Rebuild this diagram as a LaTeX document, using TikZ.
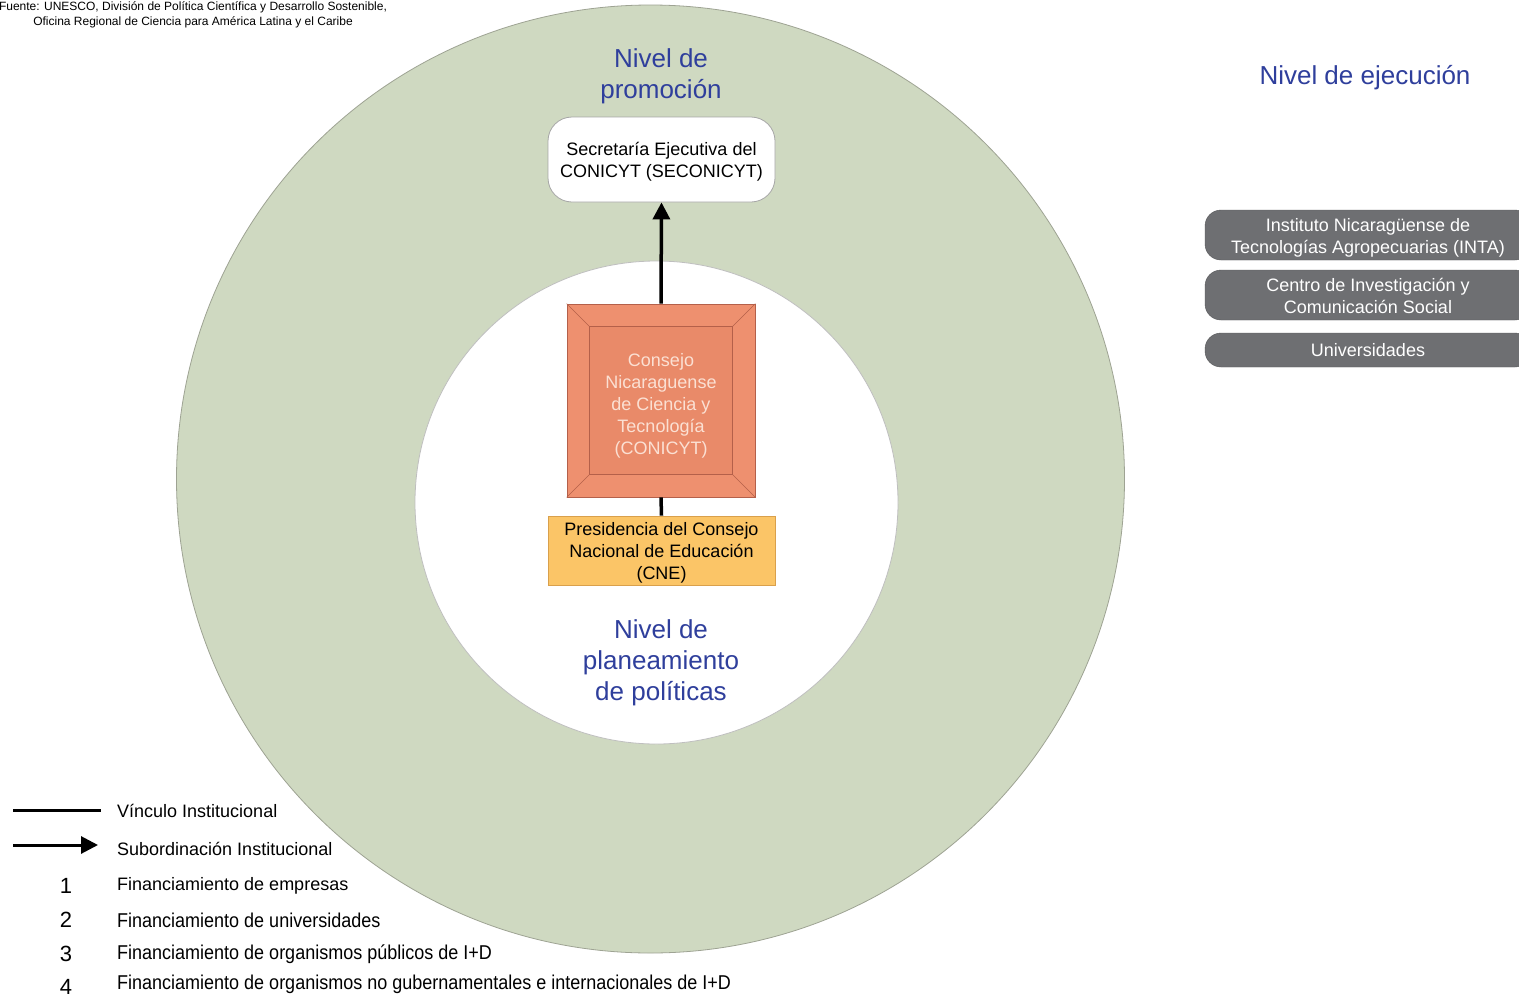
\documentclass[tikz,border=0pt]{standalone}
\usepackage{fontspec}
\setmainfont{Liberation Sans}
\newfontfamily\narrowfont[FakeStretch=0.9]{Liberation Sans}
\usetikzlibrary{arrows.meta}
\definecolor{ringgreen}{HTML}{CFD9C1}
\definecolor{ringedge}{HTML}{9EA393}
\definecolor{lvlblue}{HTML}{2F3F9C}
\definecolor{salmon}{HTML}{EE906F}
\definecolor{salmonin}{HTML}{E98A69}
\definecolor{salmonedge}{HTML}{B4604A}
\definecolor{cnefill}{HTML}{FBC567}
\definecolor{cneedge}{HTML}{D9A04C}
\definecolor{pillgray}{HTML}{6E6F72}
\definecolor{conitext}{HTML}{FBE0D3}
\tikzset{
  level/.style={text=lvlblue, font=\fontsize{26}{31}\selectfont, align=center},
  boxtext/.style={font=\fontsize{18}{22}\selectfont, align=center},
  pill/.style={fill=pillgray, draw=pillgray!80!black, rounded corners=16pt, minimum width=326pt, text=white, font=\fontsize{18}{22}\selectfont, align=center, inner sep=2pt},
  legtext/.style={anchor=west, font=\fontsize{18}{20}\selectfont, inner sep=0pt},
  legnarrow/.style={anchor=west, font=\narrowfont\fontsize{20}{20}\selectfont, inner sep=0pt},
  legnum/.style={font=\fontsize{22}{22}\selectfont, inner sep=0pt},
  link/.style={line width=3.5pt, black},
  subord/.style={line width=3.5pt, black, -{Triangle[length=17pt,width=17pt]}}
}
\begin{document}
\begin{tikzpicture}[x=1pt,y=-1pt]
\useasboundingbox (0,0) rectangle (1519,999);
\clip (0,0) rectangle (1519,999);
\fill[white] (0,0) rectangle (1519,999);
% rings
\draw[ringedge, fill=ringgreen, line width=0.8pt] (650.5,479) circle (474);
\draw[black!25, fill=white, line width=0.8pt] (656.5,502.5) circle (241.5);
% header
\node[font=\fontsize{12}{15}\selectfont, align=center, inner sep=0pt] (src) at (193,15) {Fuente: UNESCO, División de Política Científica y Desarrollo Sostenible,\\Oficina Regional de Ciencia para América Latina y el Caribe};
% level labels
\node[level] (promo) at (661,76) {Nivel de\\promoción};
\node[level] (plan) at (661,663) {Nivel de\\planeamiento\\de políticas};
\node[level] (ejec) at (1365,78) {Nivel de ejecución};
% secretaria
\node[draw=black!35, fill=white, rounded corners=24pt, minimum width=227pt, minimum height=85pt, line width=0.8pt] (sec) at (661.5,159.5) {};
\node[boxtext] (sectxt) at ([yshift=-2pt]sec.center) {Secretaría Ejecutiva del\\CONICYT (SECONICYT)};
% conicyt bevel box
\node[fill=salmon, draw=salmonedge, line width=0.6pt, minimum width=188pt, minimum height=193pt, inner sep=0pt] (coni) at (661,400.5) {};
\draw[salmonedge, line width=0.6pt, fill=salmonin] ([xshift=23pt,yshift=-23pt]coni.north west) rectangle ([xshift=-23pt,yshift=23pt]coni.south east);
\draw[salmonedge, line width=0.6pt] (coni.north west) -- ([xshift=23pt,yshift=-23pt]coni.north west)
  (coni.north east) -- ([xshift=-23pt,yshift=-23pt]coni.north east)
  (coni.south west) -- ([xshift=23pt,yshift=23pt]coni.south west)
  (coni.south east) -- ([xshift=-23pt,yshift=23pt]coni.south east);
\node[boxtext, text=conitext] (conitxt) at ([yshift=-5pt]coni.center) {Consejo\\Nicaraguense\\de Ciencia y\\Tecnología\\(CONICYT)};
% CNE
\node[fill=cnefill, draw=cneedge, line width=0.6pt, minimum width=227pt, minimum height=69pt] (cne) at (661.5,550.5) {};
\node[boxtext] (cnetxt) at ([yshift=-2pt]cne.center) {Presidencia del Consejo\\Nacional de Educación\\(CNE)};
% connectors
\draw[subord] (coni.north) -- (sec.south);
\draw[link] (coni.south) -- (cne.north);
% execution level
\node[pill, minimum height=50pt] (inta) at (1368,235) {};
\node[boxtext, text=white] (intatxt) at ([yshift=-3pt]inta.center) {Instituto Nicaragüense de\\Tecnologías Agropecuarias (INTA)};
\node[pill, minimum height=50pt] (cics) at (1368,295) {};
\node[boxtext, text=white] (cicstxt) at ([yshift=-1pt]cics.center) {Centro de Investigación y\\Comunicación Social};
\node[pill, minimum height=34pt] (univ) at (1368,350) {};
\node[boxtext, text=white] (univtxt) at (univ.center) {Universidades};
% legend
\coordinate (l1a) at (13,810); \coordinate (l1b) at (101,810);
\coordinate (l2a) at (13,845); \coordinate (l2b) at (98,845);
\draw[link, line width=3pt] (l1a) -- (l1b);
\draw[subord, line width=3pt] (l2a) -- (l2b);
\node[legtext] (t1) at (117,811) {Vínculo Institucional};
\node[legtext] (t2) at (117,849) {Subordinación Institucional};
\node[legnum] (n1) at (66,886) {1};
\node[legnum] (n2) at (66,920) {2};
\node[legnum] (n3) at (66,954) {3};
\node[legnum] (n4) at (66,987) {4};
\node[legtext] (t3) at (117,886) {Financiamiento de empresas};
\node[legnarrow] (t4) at (117,920) {Financiamiento de universidades};
\node[legnarrow] (t5) at (117,954) {Financiamiento de organismos públicos de I+D};
\node[legnarrow] (t6) at (117,984) {Financiamiento de organismos no gubernamentales e internacionales de I+D};
\end{tikzpicture}
\end{document}
